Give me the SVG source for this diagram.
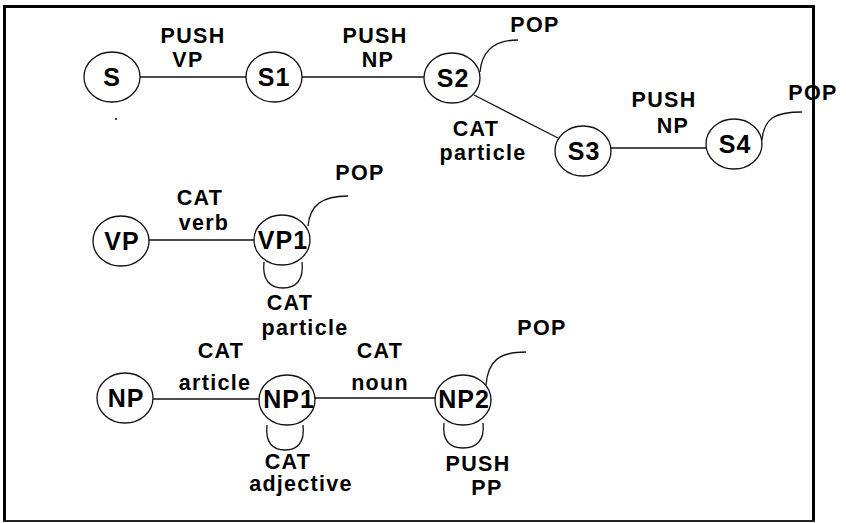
<svg xmlns="http://www.w3.org/2000/svg" width="846" height="523" viewBox="0 0 846 523">
<style>
.n ellipse{fill:none;stroke:#111;stroke-width:1.3}
.n text{font-family:"Liberation Sans",Arial,sans-serif;font-weight:bold;font-size:25px;letter-spacing:1px;text-anchor:middle;fill:#000}
.e line,.e path{fill:none;stroke:#111;stroke-width:1.3}
.l{font-family:"Liberation Sans",Arial,sans-serif;font-weight:bold;font-size:21.5px;letter-spacing:1.3px;text-anchor:middle;fill:#000}
</style>
<rect width="846" height="523" fill="#fff"/>
<g id="labels" class="l">
<text x="193" y="43">PUSH</text><text x="188" y="67">VP</text>
<text x="375" y="43">PUSH</text><text x="378" y="67">NP</text>
<text x="535" y="32">POP</text>
<text x="476" y="136">CAT</text><text x="483" y="160">particle</text>
<text x="664" y="107">PUSH</text><text x="673" y="133">NP</text>
<text x="813" y="100">POP</text>
<text x="360" y="180">POP</text>
<text x="200" y="205">CAT</text><text x="204" y="230">verb</text>
<text x="290" y="310">CAT</text><text x="305" y="335">particle</text>
<text x="221" y="358">CAT</text><text x="215" y="390">article</text>
<text x="380" y="358">CAT</text><text x="380" y="390">noun</text>
<text x="542" y="335">POP</text>
<text x="288" y="469">CAT</text><text x="301" y="491">adjective</text>
<text x="478" y="471">PUSH</text><text x="487" y="495">PP</text>
</g>
<g id="connectors" class="e">
<line x1="140" y1="77" x2="246" y2="77"/>
<line x1="302" y1="77" x2="424" y2="77"/>
<line x1="474" y1="95" x2="558" y2="138"/>
<line x1="611" y1="148" x2="706" y2="148"/>
<line x1="149" y1="240" x2="254" y2="240"/>
<line x1="153" y1="399" x2="259" y2="399"/>
<line x1="315" y1="398" x2="435" y2="398"/>
<path d="M480,72 C482,50 495,40 518,40"/>
<path d="M762,140 C764,118 775,112 802,112"/>
<path d="M308,226 C310,205 322,196 348,196"/>
<path d="M486,385 C488,360 500,352 526,352"/>
<path d="M264,262 C262,280 270,288 283,288 C296,288 304,280 302,262"/>
<path d="M267,425 C265,443 273,450 285,450 C297,450 305,443 303,425"/>
<path d="M444,423 C442,441 450,448 463,448 C476,448 485,441 483,423"/>
</g>
<g id="S" class="n"><ellipse cx="112" cy="77" rx="28" ry="25"/><text x="112" y="86">S</text></g>
<g id="S1" class="n"><ellipse cx="274" cy="77" rx="28" ry="25"/><text x="274" y="86">S1</text></g>
<g id="S2" class="n"><ellipse cx="452" cy="78" rx="28" ry="25"/><text x="453" y="87">S2</text></g>
<g id="S3" class="n"><ellipse cx="583" cy="151" rx="28" ry="25"/><text x="584" y="160">S3</text></g>
<g id="S4" class="n"><ellipse cx="734" cy="144" rx="28" ry="25"/><text x="735" y="153">S4</text></g>
<g id="VP" class="n"><ellipse cx="121" cy="241" rx="28" ry="25"/><text x="122" y="250">VP</text></g>
<g id="VP1" class="n"><ellipse cx="282" cy="240" rx="28" ry="25"/><text x="283" y="249">VP1</text></g>
<g id="NP" class="n"><ellipse cx="125" cy="398" rx="28" ry="25"/><text x="126" y="407">NP</text></g>
<g id="NP1" class="n"><ellipse cx="287" cy="400" rx="28" ry="25"/><text x="289" y="408">NP1</text></g>
<g id="NP2" class="n"><ellipse cx="463" cy="400" rx="28" ry="25"/><text x="464" y="408">NP2</text></g>
<rect x="115" y="118" width="2" height="2" fill="#444"/>
<g id="border" fill="none">
<path d="M4.5,521 V6.5 H813.5 V521" stroke="#000" stroke-width="3"/>
<line x1="3" y1="521" x2="815" y2="521" stroke="#222" stroke-width="2"/>
</g>
</svg>
